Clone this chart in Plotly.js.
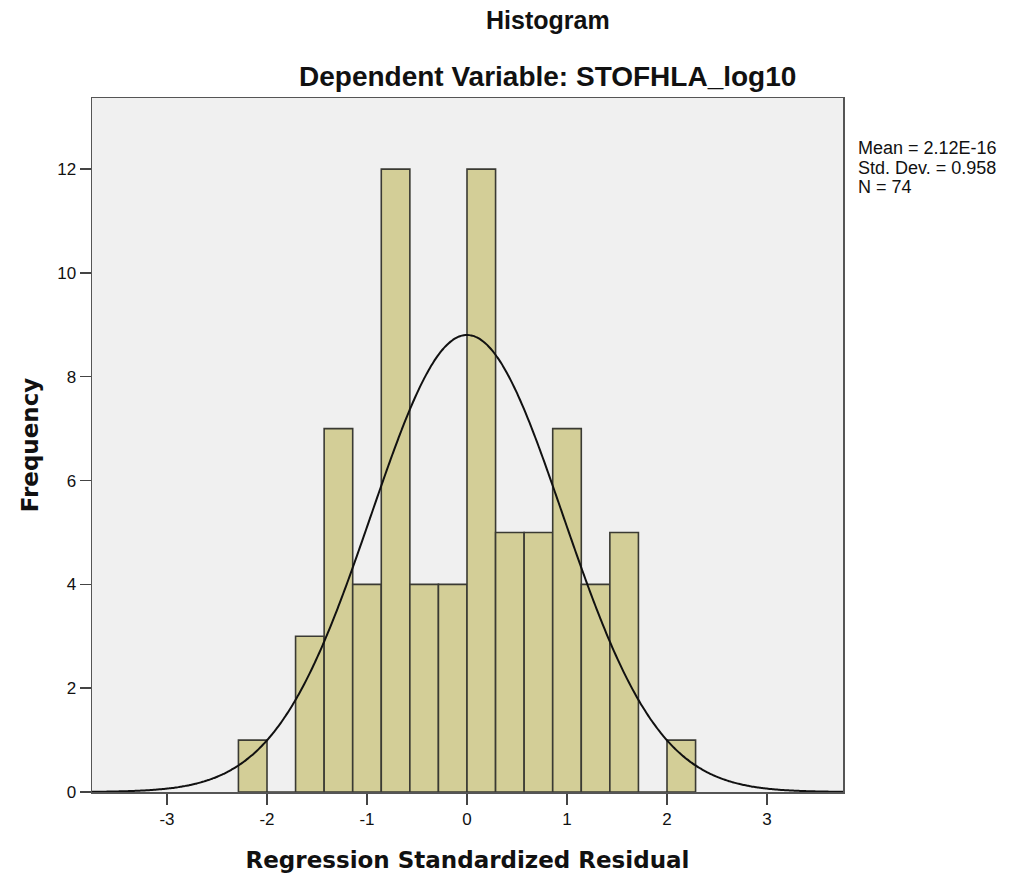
<!DOCTYPE html>
<html>
<head>
<meta charset="utf-8">
<script src="https://cdn.plot.ly/plotly-3.0.1.min.js"></script>
<style>
  html, body { margin: 0; padding: 0; background: #ffffff; }
  #chart { width: 1015px; height: 874px; }
</style>
</head>
<body>
<div id="chart"></div>
<script>
// Residual histogram: 16 equal bins, left edge and width
const binStart = -16 / 7;
const binWidth = 2 / 7;
const binCounts = [1, 0, 3, 7, 4, 12, 4, 4, 12, 5, 5, 7, 4, 5, 0, 1];

// Summary statistics shown beside the plot
const statMean = 2.12e-16;
const statSD = 0.958;
const statN = 74;
const statLines = ['Mean = 2.12E-16', 'Std. Dev. = 0.958', 'N = 74'];

const xTicks = [-3, -2, -1, 0, 1, 2, 3];
const yTicks = [0, 2, 4, 6, 8, 10, 12];

const binCenters = binCounts.map((_, i) => binStart + (i + 0.5) * binWidth);

// Normal curve scaled to the histogram (N * bin width * density)
const xRange = [-3.75, 3.76];
const curveX = [];
const curveY = [];
for (let k = 0; k <= 400; k++) {
  const x = xRange[0] + (xRange[1] - xRange[0]) * k / 400;
  const z = (x - statMean) / statSD;
  curveX.push(x);
  curveY.push(statN * binWidth * Math.exp(-0.5 * z * z) / (statSD * Math.sqrt(2 * Math.PI)));
}

const traces = [
  {
    type: 'bar',
    x: binCenters,
    y: binCounts,
    width: binWidth,
    marker: { color: '#d3ce97', line: { color: '#3a3a33', width: 1.6 } },
    hoverinfo: 'x+y'
  },
  {
    type: 'scatter',
    mode: 'lines',
    x: curveX,
    y: curveY,
    line: { color: '#111111', width: 2, shape: 'spline' },
    hoverinfo: 'skip'
  }
];

const axisTitleFont = { family: 'DejaVu Sans, Verdana, sans-serif', size: 23, color: '#111111', weight: 'bold' };
const tickFont = { family: 'Liberation Sans, Arial, sans-serif', size: 17, color: '#111111' };

// Stats block: one annotation per line for tight line spacing
const statAnnotations = statLines.map((t, i) => ({
  text: t,
  xref: 'paper', yref: 'paper',
  x: 1.0, y: 1.0, xshift: 13, yshift: -50 - 19.5 * i,
  xanchor: 'left', yanchor: 'middle',
  align: 'left',
  showarrow: false,
  font: { family: 'Liberation Sans, Arial, sans-serif', size: 18, color: '#111111' }
}));

const layout = {
  width: 1015,
  height: 874,
  margin: { l: 92, r: 172, t: 98, b: 82 },
  paper_bgcolor: '#ffffff',
  plot_bgcolor: '#f0f0f0',
  showlegend: false,
  bargap: 0,
  font: { family: 'Liberation Sans, Arial, sans-serif', size: 14, color: '#111111' },
  xaxis: {
    range: xRange,
    tickvals: xTicks,
    ticktext: xTicks.map(String),
    ticks: 'outside',
    ticklen: 11,
    tickwidth: 1.5,
    tickcolor: '#444444',
    showgrid: false,
    zeroline: false,
    showline: true,
    linecolor: '#555555',
    linewidth: 1.5,
    mirror: true,
    tickfont: tickFont,
    title: { text: 'Regression Standardized Residual', font: axisTitleFont, standoff: 24 }
  },
  yaxis: {
    range: [0, 13.37],
    tickvals: yTicks,
    ticktext: yTicks.map(String),
    ticks: 'outside',
    ticklen: 11,
    tickwidth: 1.5,
    tickcolor: '#444444',
    showgrid: false,
    zeroline: false,
    showline: true,
    linecolor: '#555555',
    linewidth: 1.5,
    mirror: true,
    tickfont: tickFont,
    title: { text: 'Frequency', font: axisTitleFont, standoff: 12 }
  },
  annotations: [
    {
      text: '<b>Histogram</b>',
      xref: 'paper', yref: 'paper',
      x: 0.607, y: 1.0, yshift: 78,
      xanchor: 'center', yanchor: 'middle',
      showarrow: false,
      font: { family: 'Liberation Sans, Arial, sans-serif', size: 25, color: '#111111' }
    },
    {
      text: '<b>Dependent Variable: STOFHLA_log10</b>',
      xref: 'paper', yref: 'paper',
      x: 0.607, y: 1.0, yshift: 22,
      xanchor: 'center', yanchor: 'middle',
      showarrow: false,
      font: { family: 'Liberation Sans, Arial, sans-serif', size: 28, color: '#111111' }
    }
  ].concat(statAnnotations)
};

Plotly.newPlot('chart', traces, layout, { displayModeBar: false, staticPlot: true });
</script>
</body>
</html>
